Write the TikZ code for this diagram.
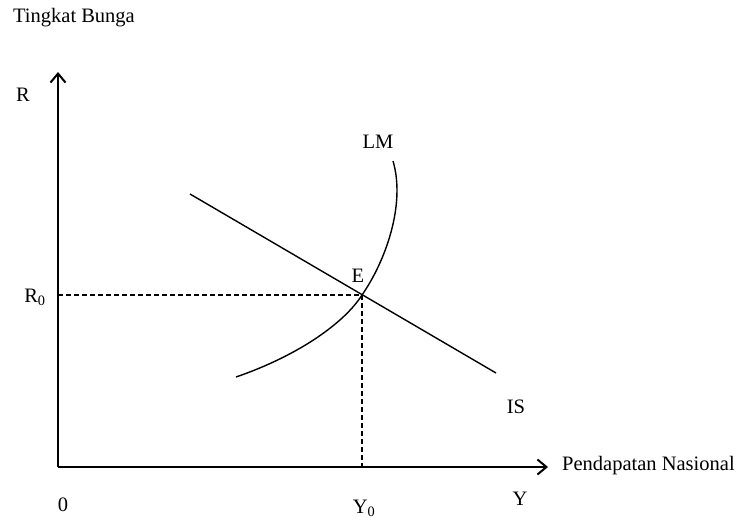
\documentclass[tikz,border=0pt]{standalone}
\usepackage{fontspec}
\setmainfont{Liberation Serif}
\usetikzlibrary{arrows.meta, positioning}

\begin{document}
\begin{tikzpicture}[x=1pt, y=-1pt,
  every node/.style={font=\fontsize{20.5}{22}\selectfont, inner sep=1pt},
  axis/.style={line width=2.4pt, -{Straight Barb[length=9pt, width=15pt, line width=2pt]}},
  curve/.style={line width=1.4pt},
  guide/.style={line width=1.1pt, dash pattern=on 5pt off 3pt}]

\useasboundingbox (0,0) rectangle (739,521);

% axes
\coordinate (orig) at (58,467);
\coordinate (ytop) at (58,72);
\coordinate (xend) at (548,467);
\draw[axis] (orig) -- (ytop);
\draw[axis] (orig) -- (xend);

% equilibrium and curves
\coordinate (E) at (362,295);
\coordinate (isA) at (190,194);
\coordinate (isB) at (496,373);
\coordinate (lmA) at (236,377);
\coordinate (lmB) at (393,161);
\draw[curve] (isA) -- (isB);
\draw[curve] (lmA) .. controls (300,355) and (345,322) .. (E)
  .. controls (385,262) and (406,205) .. (lmB);

% guides to the axes
\coordinate (rmark) at (orig |- E);
\coordinate (ymark) at (E |- orig);
\draw[guide] (rmark) -- (E);
\draw[guide] (E) -- (ymark);

% labels
\node (title) at (74,18) {Tingkat Bunga};
\node (rlab) at (23,95) {R};
\node (r0) at (35,297) {R\textsubscript{0}};
\node (elab) at (358,276) {E};
\node (lmlab) at (378,142) {LM};
\node (islab) at (516,407) {IS};
\node (zero) at (63,505) {0};
\node (y0) at (364,508) {Y\textsubscript{0}};
\node (ylab) at (520,499) {Y};
\node[anchor=west] (xlab) at (561,466) {Pendapatan Nasional};

\end{tikzpicture}
\end{document}
